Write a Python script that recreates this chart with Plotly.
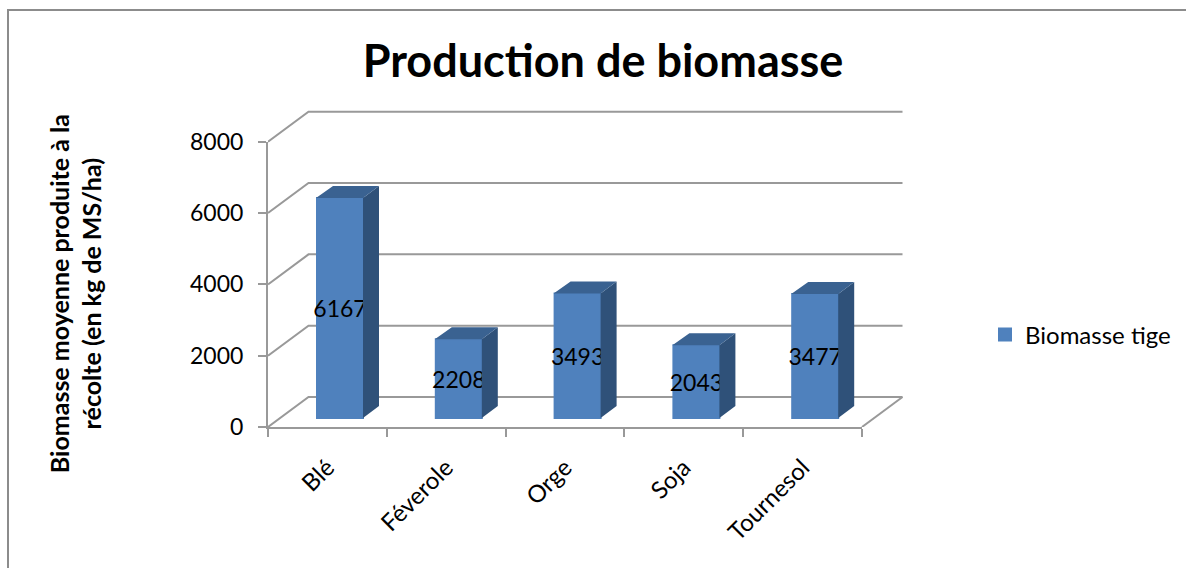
import plotly.graph_objects as go

categories = ["Blé", "Féverole", "Orge", "Soja", "Tournesol"]
biomasse_tige = [6167, 2208, 3493, 2043, 3477]
value_ticks = [0, 2000, 4000, 6000, 8000]

FONT = "Lato, Carlito, Calibri, sans-serif"
W, H = 1186, 568
L, R, T, B = 268, 862, 141.7, 426.7      # front axes box, in pixels
PR, PT = 920, 90                         # outer box that also holds the back wall
X_PX = (R - L) / len(categories)         # pixels per category
Y_PX = (B - T) / 8000                    # pixels per unit
GRAY = "#999999"
FRONT, SIDE, TOP = "#4F81BD", "#2F5179", "#3A6291"

wall_dx, wall_dy = 40.5 / X_PX, 30 / Y_PX
bar_shift = 12.6 / X_PX
bar_base = 9 / Y_PX
bar_w = 46 / X_PX
side_dx, side_dy = 16 / X_PX, 12 / Y_PX

x_pos = [i + bar_shift for i in range(len(categories))]
x0, x1 = -0.5, len(categories) - 0.5


def px(x):
    return (x - L) / (PR - L)


def py(y):
    return (B - y) / (B - PT)


fig = go.Figure()

# walls, on hidden axes that share the scale of the visible ones over a larger box
gx, gy = [], []
for t in value_ticks:
    gx += [x0, x0 + wall_dx, x1 + wall_dx, None]
    gy += [t, t + wall_dy, t + wall_dy, None]
gx += [x1, x1 + wall_dx, None]
gy += [0, wall_dy, None]
fig.add_trace(go.Scatter(x=gx, y=gy, mode="lines", line=dict(color=GRAY, width=2),
                         hoverinfo="skip", showlegend=False))

# front faces
fig.add_trace(go.Bar(
    x=x_pos, y=biomasse_tige, base=bar_base, width=bar_w, name="Biomasse tige",
    xaxis="x2", yaxis="y2",
    marker=dict(color=FRONT, line=dict(width=2, color=FRONT)),
    text=[str(v) for v in biomasse_tige], textposition="inside", textangle=0,
    insidetextanchor="middle", constraintext="none",
    textfont=dict(family=FONT, size=23, color="black"),
    cliponaxis=False, showlegend=True))

# side and top faces of each bar
sx, sy, tx, ty = [], [], [], []
for xc, v in zip(x_pos, biomasse_tige):
    a, b = xc - bar_w / 2, xc + bar_w / 2
    y_lo, y_hi = bar_base, bar_base + v
    sx += [b, b + side_dx, b + side_dx, b, b, None]
    sy += [y_lo, y_lo + side_dy, y_hi + side_dy, y_hi, y_lo, None]
    tx += [a - 1 / X_PX, a + side_dx, b + side_dx, b, a - 1 / X_PX, None]
    ty += [y_hi, y_hi + side_dy, y_hi + side_dy, y_hi, y_hi, None]
for fx, fy, col in ((sx, sy, SIDE), (tx, ty, TOP)):
    fig.add_trace(go.Scatter(x=fx, y=fy, mode="lines", fill="toself", fillcolor=col,
                             xaxis="x2", yaxis="y2",
                             line=dict(width=0, color=col), hoverinfo="skip",
                             showlegend=False, cliponaxis=False))

fig.update_layout(
    width=W, height=H, autosize=False,
    margin=dict(l=L, r=W - PR, t=PT, b=H - B, pad=0),
    paper_bgcolor="white", plot_bgcolor="rgba(0,0,0,0)",
    font=dict(family=FONT, color="black"),
    title=dict(text="<b>Production de biomasse</b>", font=dict(family=FONT, size=45, color="black"),
               x=603 / W, xref="container", xanchor="center",
               y=1 - 61 / H, yref="container", yanchor="middle"),
    xaxis=dict(range=[x0, x0 + (PR - L) / X_PX], visible=False),
    yaxis=dict(range=[0, (B - PT) / Y_PX], visible=False),
    xaxis2=dict(domain=[0, px(R)], anchor="y2", range=[x0, x1], tickmode="array",
                tickvals=list(range(len(categories))),
                ticktext=categories, tickangle=-45, ticks="", ticklabelstandoff=15,
                tickfont=dict(family=FONT, size=24), showgrid=False, zeroline=False,
                showline=True, linecolor=GRAY, linewidth=2,
                minor=dict(tickmode="array", tickvals=[i - 0.5 for i in range(len(categories) + 1)],
                           ticks="outside", ticklen=8, tickwidth=2, tickcolor=GRAY, showgrid=False)),
    yaxis2=dict(domain=[0, py(T)], anchor="x2", range=[0, 8000], tickmode="array",
                tickvals=value_ticks, ticks="outside",
                ticklen=8, tickwidth=2, tickcolor=GRAY, ticklabelstandoff=10,
                tickfont=dict(family=FONT, size=23), showgrid=False, zeroline=False,
                showline=True, linecolor=GRAY, linewidth=2),
    legend=dict(x=985 / W, xref="container", xanchor="left", y=1 - 335 / H, yref="container", yanchor="middle",
                font=dict(family=FONT, size=24), bgcolor="rgba(0,0,0,0)"),
    annotations=[dict(text="<b>Biomasse moyenne produite à la<br>récolte (en kg de MS/ha)</b>",
                      xref="paper", yref="paper", x=px(75), y=py(294),
                      xanchor="center", yanchor="middle", textangle=-90, showarrow=False,
                      align="center", font=dict(family=FONT, size=25, color="black"))],
    shapes=[dict(type="rect", xref="paper", yref="paper", layer="below",
                 x0=px(8), x1=px(W + 20), y0=py(H + 20), y1=py(10),
                 line=dict(color="#8C8C8C", width=2))],
)

fig.write_html("out.html", config=dict(displayModeBar=False),
               post_script="document.body.style.margin='0';")
